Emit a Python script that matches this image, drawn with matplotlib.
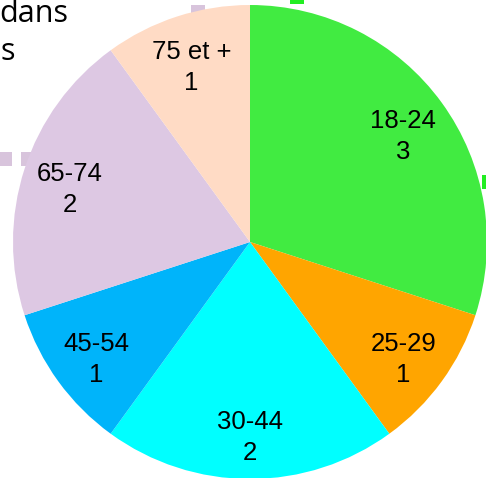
import matplotlib
matplotlib.use("Agg")
import matplotlib.pyplot as plt
from matplotlib.patches import Rectangle

# age groups and counts
categories = ["18-24", "25-29", "30-44", "45-54", "65-74", "75 et +"]
counts = [3, 1, 2, 1, 2, 1]
colors = ["#41EB41", "#FFA500", "#00FFFF", "#00B4FA", "#DDC8E3", "#FFDBC5"]

W, H = 486, 478
fig = plt.figure(figsize=(W / 100, H / 100), dpi=100)

# background layer in pixel coords for the clipped title and stray legend marks
bg = fig.add_axes([0, 0, 1, 1])
bg.set_xlim(0, W)
bg.set_ylim(H, 0)
bg.axis("off")
for (x, y, w, h, c) in [(191, 5, 14, 9, "#D8C4DC"), (290, -1, 14, 5, "#22EE22"),
                        (-1, 152, 13, 14, "#D8C4DC"), (21, 152, 10, 14, "#D8C4DC"),
                        (482, 175, 5, 14, "#22EE22")]:
    bg.add_patch(Rectangle((x, y), w, h, color=c, lw=0))
bg.text(-1, 22, "dans", fontsize=22, family="Open Sans", va="baseline", ha="left")
bg.text(0, 60, "s", fontsize=22, family="Open Sans", va="baseline", ha="left")

# pie: centre (250, 242), radius 237 px
r = 237
ax = fig.add_axes([(250 - r) / W, (H - 242 - r) / H, 2 * r / W, 2 * r / H])
labels = [f"{c}\n{v}" for c, v in zip(categories, counts)]
wedges, texts = ax.pie(counts, colors=colors, startangle=90, counterclock=False,
                       labels=labels, labeldistance=0.8,
                       wedgeprops=dict(linewidth=0),
                       textprops=dict(fontsize=18.5, family="Liberation Sans",
                                      ha="center", va="center", linespacing=1.36))
# labels sit a little lower than the radial position in the original
for t in texts:
    x, y = t.get_position()
    t.set_position((x, y - 6 / r))
ax.set_xlim(-1, 1)
ax.set_ylim(-1, 1)
ax.axis("off")

fig.savefig("out.png", dpi=100)
